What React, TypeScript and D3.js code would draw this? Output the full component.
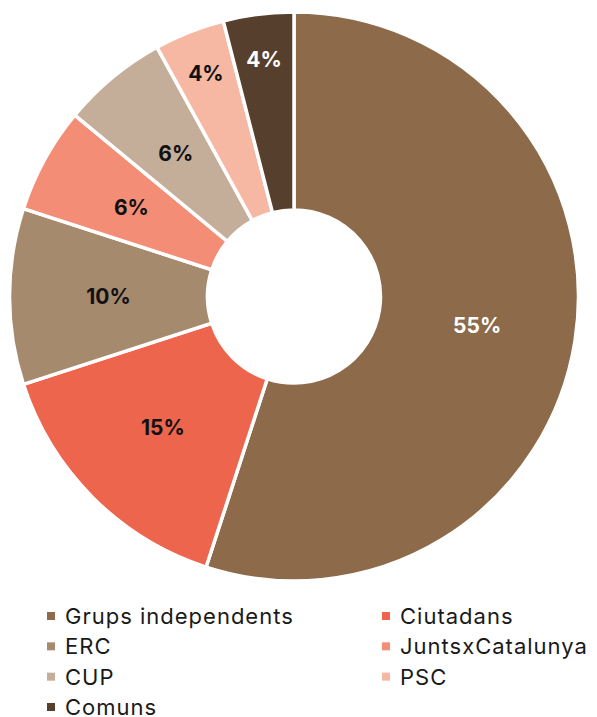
import React from "react";
import * as d3 from "d3";

// slice data, clockwise from 12 o'clock
const parties = ["Grups independents", "Ciutadans", "ERC", "JuntsxCatalunya", "CUP", "PSC", "Comuns"];
const shares = [55, 15, 10, 6, 6, 4, 4];
const colors = ["#8c6a4a", "#ee654e", "#a68a6d", "#f38d75", "#c4ae99", "#f6b8a2", "#573f2d"];
const labelColors = ["#ffffff", "#111111", "#111111", "#111111", "#111111", "#111111", "#ffffff"];

const W = 597;
const H = 717;
const cx = 294;
const cy = 296.5;
const outerR = 284.5;
const innerR = 86.5;
const FONT = "Inter, 'Noto Sans', sans-serif";

export default function App() {
  const data = parties.map((name, i) => ({ name, value: shares[i], color: colors[i], labelColor: labelColors[i] }));
  const pie = d3.pie<any>().value((d) => d.value).sort(null);
  const arcs = pie(data);
  const arc = d3.arc<any>().innerRadius(innerR).outerRadius(outerR);

  const midR = (innerR + outerR) / 2;
  const labelRoom = 60;
  const labelPos = (a: any) => {
    const mid = (a.startAngle + a.endAngle) / 2;
    const half = (a.endAngle - a.startAngle) / 2;
    // push small slices outward until the label fits the chord
    let r = midR;
    const need = labelRoom / (2 * Math.sin(half));
    if (need > r) r = Math.min(need, outerR - 36);
    return [Math.sin(mid) * r, -Math.cos(mid) * r];
  };

  const legendX = d3.scaleOrdinal<number, number>().domain([0, 1]).range([47, 382]);
  const legendY = d3.scaleLinear().domain([0, 3]).range([616, 707]);

  return (
    <svg width={W} height={H} style={{ position: "absolute", left: 0, top: 0, background: "#fff" }}>
      <g transform={`translate(${cx},${cy})`}>
        {arcs.map((a, i) => (
          <path key={i} d={arc(a) as string} fill={a.data.color} stroke="#fff" strokeWidth={3.5} strokeLinejoin="miter" />
        ))}
        {arcs.map((a, i) => {
          const [x, y] = labelPos(a);
          return (
            <text
              key={"l" + i}
              x={x}
              y={y}
              textAnchor="middle"
              dominantBaseline="central"
              fontFamily={FONT}
              fontWeight={700}
              fontSize={21}
              fill={a.data.labelColor}
            >
              {a.data.value}%
            </text>
          );
        })}
      </g>
      <g>
        {data.map((d, i) => {
          const col = i % 2;
          const row = Math.floor(i / 2);
          const x = legendX(col);
          const y = legendY(row);
          return (
            <g key={"lg" + i} transform={`translate(${x},${y})`}>
              <rect x={0} y={-4} width={8} height={8} fill={d.color} />
              <text
                x={18}
                y={0}
                dominantBaseline="central"
                fontFamily={FONT}
                fontSize={22}
                letterSpacing={1}
                fill="#1a1a1a"
              >
                {d.name}
              </text>
            </g>
          );
        })}
      </g>
    </svg>
  );
}
